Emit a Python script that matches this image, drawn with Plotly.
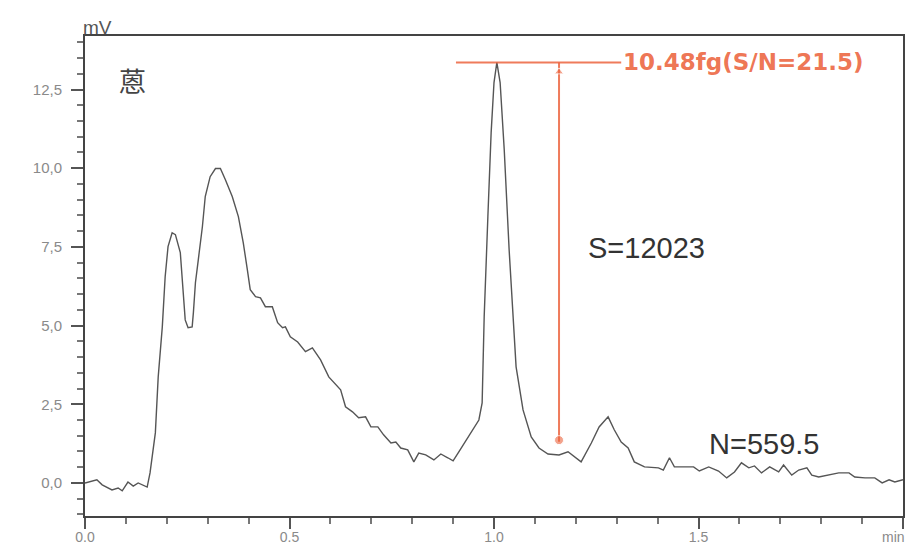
import plotly.graph_objects as go

# Chromatogram trace (time in min, signal in mV)
time_min = [0.000, 0.029, 0.042, 0.066, 0.081, 0.091, 0.105, 0.118, 0.130, 0.152,
            0.159, 0.172, 0.179, 0.189, 0.196, 0.203, 0.213, 0.221, 0.233, 0.240,
            0.245, 0.252, 0.262, 0.265, 0.270, 0.277, 0.287, 0.294, 0.306, 0.319,
            0.331, 0.343, 0.360, 0.375, 0.387, 0.397, 0.404, 0.417, 0.429, 0.441,
            0.458, 0.471, 0.483, 0.490, 0.502, 0.520, 0.539, 0.556, 0.576, 0.596,
            0.613, 0.625, 0.637, 0.654, 0.669, 0.686, 0.699, 0.716, 0.730, 0.748,
            0.760, 0.772, 0.789, 0.804, 0.816, 0.833, 0.853, 0.870, 0.887, 0.900,
            0.914, 0.936, 0.963, 0.971, 0.976, 0.985, 0.993, 1.000, 1.007, 1.015,
            1.025, 1.037, 1.047, 1.054, 1.071, 1.091, 1.110, 1.132, 1.159, 1.181,
            1.213, 1.238, 1.257, 1.279, 1.294, 1.311, 1.328, 1.343, 1.368, 1.402,
            1.414, 1.429, 1.441, 1.466, 1.488, 1.502, 1.525, 1.549, 1.569, 1.588,
            1.605, 1.623, 1.637, 1.654, 1.674, 1.696, 1.708, 1.728, 1.745, 1.765,
            1.777, 1.794, 1.819, 1.843, 1.868, 1.882, 1.907, 1.931, 1.949, 1.966,
            1.980, 2.000]
signal_mv = [0.00, 0.10, -0.06, -0.22, -0.16, -0.25, 0.03, -0.10, 0.00, -0.13,
             0.32, 1.59, 3.37, 4.96, 6.55, 7.51, 7.95, 7.89, 7.32, 6.23,
             5.18, 4.93, 4.96, 5.41, 6.36, 7.09, 8.14, 9.10, 9.73, 9.99,
             9.99, 9.64, 9.10, 8.46, 7.63, 6.77, 6.14, 5.92, 5.88, 5.60,
             5.60, 5.09, 4.93, 4.96, 4.64, 4.48, 4.17, 4.29, 3.91, 3.37,
             3.12, 2.96, 2.42, 2.26, 2.07, 2.10, 1.78, 1.78, 1.53, 1.27,
             1.30, 1.11, 1.05, 0.67, 0.95, 0.89, 0.73, 0.92, 0.80, 0.70,
             0.99, 1.43, 2.00, 2.54, 5.28, 8.46, 11.13, 12.72, 13.36, 12.72,
             10.59, 7.41, 5.28, 3.69, 2.32, 1.46, 1.11, 0.92, 0.89, 0.99,
             0.67, 1.27, 1.78, 2.10, 1.69, 1.30, 1.11, 0.67, 0.51, 0.48,
             0.41, 0.80, 0.51, 0.51, 0.51, 0.38, 0.51, 0.38, 0.16, 0.35,
             0.64, 0.48, 0.54, 0.32, 0.51, 0.35, 0.57, 0.25, 0.41, 0.48,
             0.25, 0.19, 0.25, 0.32, 0.32, 0.19, 0.16, 0.16, 0.00, 0.10,
             0.03, 0.10]

x_tickvals = [0.0, 0.5, 1.0, 1.5, 2.0]
x_ticktext = ["0.0", "0.5", "1.0", "1.5", ""]
x_unit = "min"
y_tickvals = [0.0, 2.5, 5.0, 7.5, 10.0, 12.5]
y_ticktext = ["0,0", "2,5", "5,0", "7,5", "10,0", "12,5"]
y_unit = "mV"

compound_label = "蒽"
sn_label = "10.48fg(S/N=21.5)"
s_label = "S=12023"
n_label = "N=559.5"
signal_marker_x = 1.159      # time where S is measured
noise_top = 1.31             # baseline/noise level where S arrow ends
ref_line_x = [0.907, 1.311]  # horizontal reference line at peak apex

peak_top = max(signal_mv)
red = "rgba(236,100,62,0.85)"

fig = go.Figure()
fig.add_trace(go.Scatter(x=time_min, y=signal_mv, mode="lines",
                         line=dict(color="#555555", width=1.4),
                         hoverinfo="skip", showlegend=False))
fig.add_trace(go.Scatter(x=ref_line_x, y=[peak_top, peak_top], mode="lines",
                         line=dict(color=red, width=2), showlegend=False, hoverinfo="skip"))
fig.add_trace(go.Scatter(x=[signal_marker_x, signal_marker_x], y=[peak_top, noise_top],
                         mode="lines", line=dict(color=red, width=2),
                         showlegend=False, hoverinfo="skip"))
fig.add_trace(go.Scatter(x=[signal_marker_x, signal_marker_x], y=[peak_top - 0.3, noise_top + 0.05],
                         mode="markers",
                         marker=dict(symbol=["triangle-up", "circle"], size=[8, 9], color=red),
                         showlegend=False, hoverinfo="skip"))

fig.add_annotation(x=ref_line_x[1], y=peak_top, text="<b>" + sn_label + "</b>", showarrow=False,
                   xanchor="left", yanchor="middle",
                   font=dict(family="DejaVu Sans", size=23, color="rgba(236,100,62,0.9)"))
fig.add_annotation(x=1.225, y=7.47, text=s_label, showarrow=False,
                   xanchor="left", yanchor="middle",
                   font=dict(family="Liberation Sans", size=29, color="#333333"))
fig.add_annotation(x=1.52, y=1.24, text=n_label, showarrow=False,
                   xanchor="left", yanchor="middle",
                   font=dict(family="Liberation Sans", size=29, color="#333333"))
fig.add_annotation(x=0.115, y=12.8, text=compound_label, showarrow=False,
                   xanchor="center", yanchor="middle",
                   font=dict(family="Noto Sans CJK SC", size=27, color="#444444"))
fig.add_annotation(x=0, y=1, xref="paper", yref="paper", text=y_unit, showarrow=False,
                   xanchor="left", yanchor="bottom", yshift=-4, xshift=-4,
                   font=dict(family="Liberation Sans", size=19, color="#555555"))
fig.add_annotation(x=1, y=0, xref="paper", yref="paper", text=x_unit, showarrow=False,
                   xanchor="right", yanchor="top", yshift=-11, xshift=4,
                   font=dict(family="Liberation Sans", size=14, color="#8a8a8a"))

axis_common = dict(showline=True, linecolor="#444444", linewidth=2, mirror=True,
                   ticks="outside", tickcolor="#555555", showgrid=False, zeroline=False,
                   automargin=False)
fig.update_xaxes(range=[0, 2.0], tickvals=x_tickvals, ticktext=x_ticktext,
                 ticklen=11, tickwidth=2, ticklabelstandoff=-4,
                 tickfont=dict(family="Liberation Sans", size=14, color="#8a8a8a"),
                 minor=dict(dtick=0.1, ticks="outside", ticklen=6, tickwidth=2,
                            tickcolor="#777777"),
                 **axis_common)
fig.update_yaxes(range=[-1.05, 14.2], tickvals=y_tickvals, ticktext=y_ticktext,
                 ticklen=12, tickwidth=2, ticklabelstandoff=6,
                 tickfont=dict(family="Liberation Sans", size=15, color="#8a8a8a"),
                 minor=dict(dtick=0.5, ticks="outside", ticklen=6, tickwidth=2,
                            tickcolor="#777777"),
                 **axis_common)

fig.update_layout(width=907, height=546, margin=dict(l=85, r=4, t=36, b=30),
                  paper_bgcolor="white", plot_bgcolor="white")
fig.write_html("out.html")
